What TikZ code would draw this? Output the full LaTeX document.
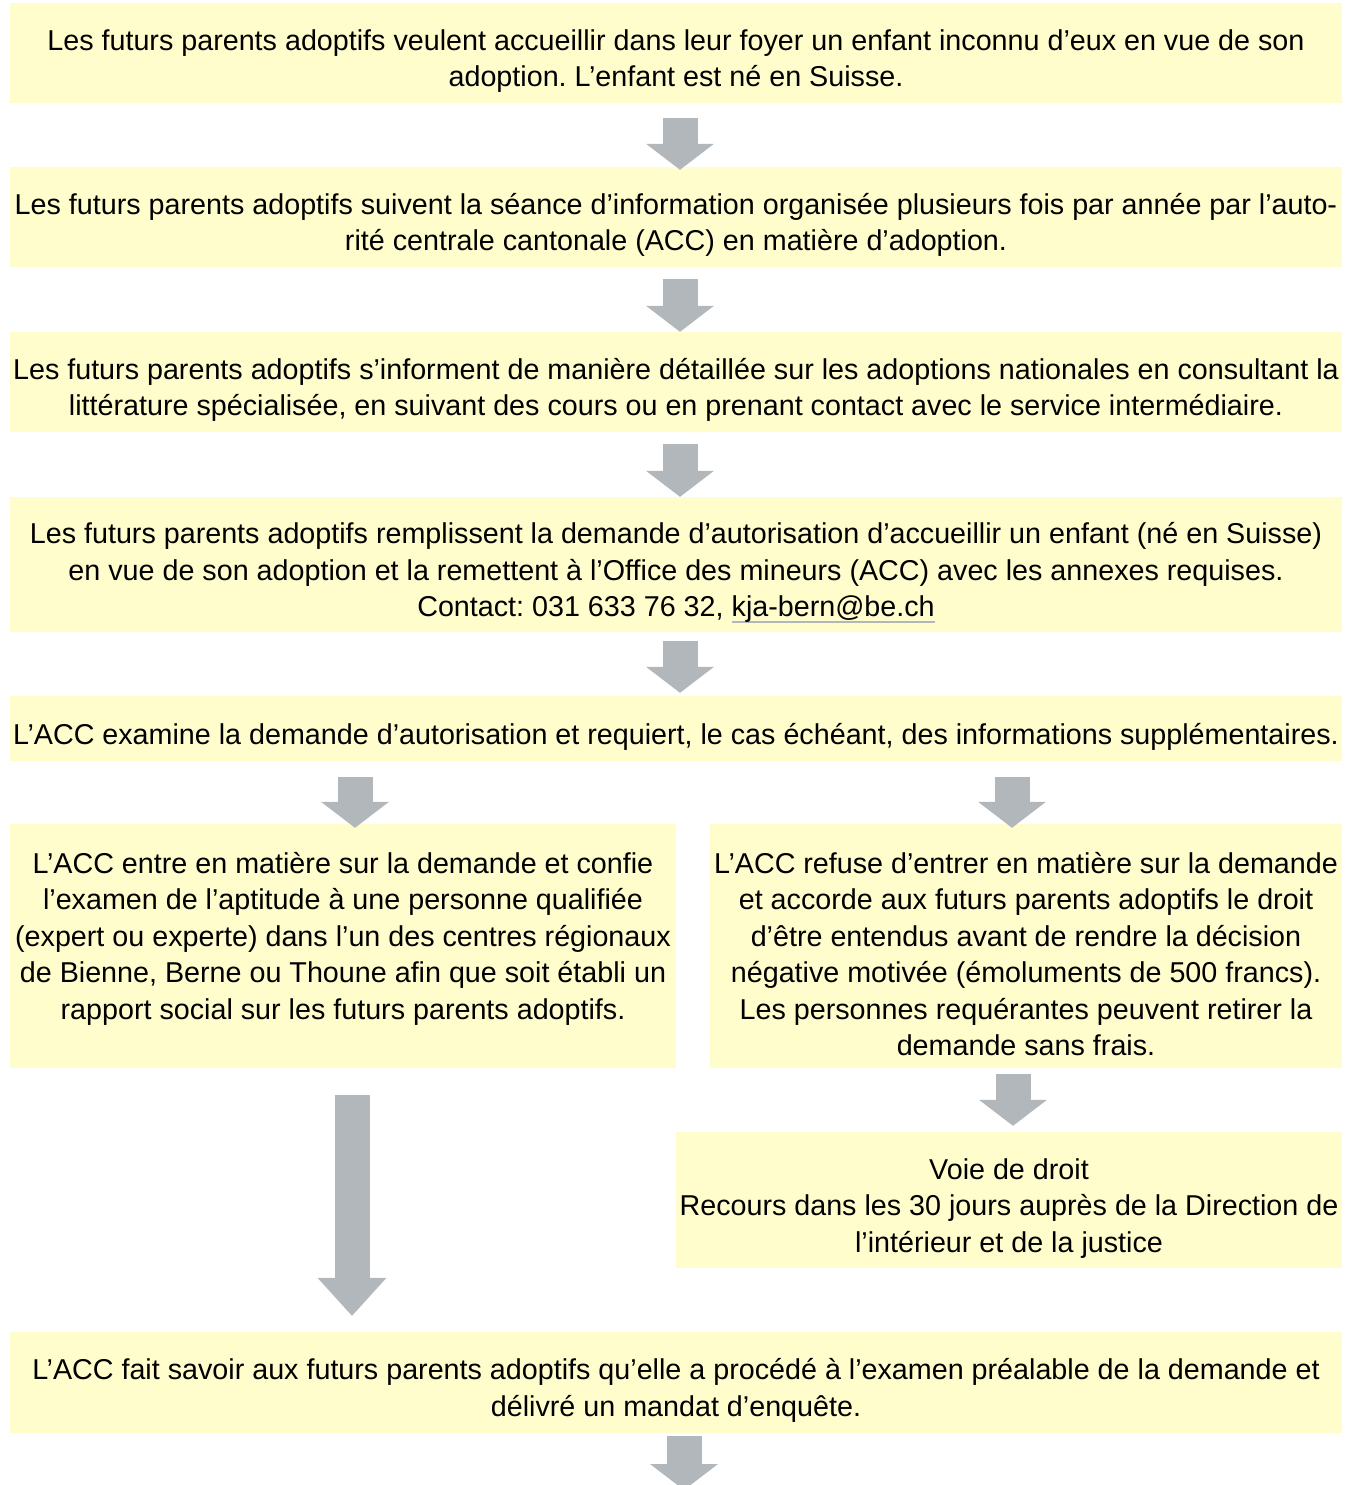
\documentclass[tikz,border=0pt]{standalone}
\usepackage{fontspec}
\setmainfont{Liberation Sans}
\usepackage{tikz}
\usetikzlibrary{arrows.meta,positioning,calc}
\definecolor{boxyellow}{HTML}{FFFDCC}
\definecolor{arrowgray}{HTML}{B1B7BA}
\frenchspacing
%% top padding of the first line, underlined mail address
\newcommand{\topgap}{\rule{0pt}{37pt}}
\newcommand{\mailline}[1]{\setbox0=\hbox{#1}\rlap{\textcolor{arrowgray}{\rule[-6pt]{\wd0}{1.6pt}}}\box0}
\tikzset{
  flowbox/.style={fill=boxyellow, draw=none, inner sep=0pt, align=center,
    text=black, font=\fontsize{28.7}{36.5}\selectfont},
  fullbox/.style={flowbox, minimum width=1332pt, minimum height=#1},
  halfbox/.style={flowbox, minimum width=#1},
  %% block arrows
  blockarrow/.style={draw=arrowgray, line width=35pt,
    -{Triangle[width=68pt, length=26pt, line width=0pt]},
    shorten <=12pt, shorten >=0pt},
}

\begin{document}
\begin{tikzpicture}[x=1pt, y=-1pt]
\useasboundingbox (0,0) rectangle (1352,1485);

%% Steps
\node[fullbox=100pt] (b1) at (676,53)
  {\topgap Les futurs parents adoptifs veulent accueillir dans leur foyer un enfant inconnu d’eux en vue de son\\
   adoption. L’enfant est né en Suisse.};
\node[fullbox=100pt] (b2) at (676,217)
  {\topgap Les futurs parents adoptifs suivent la séance d’information organisée plusieurs fois par année par l’auto-\\
   rité centrale cantonale (ACC) en matière d’adoption.};
\node[fullbox=100pt] (b3) at (676,382)
  {\topgap Les futurs parents adoptifs s’informent de manière détaillée sur les adoptions nationales en consultant la\\
   littérature spécialisée, en suivant des cours ou en prenant contact avec le service intermédiaire.};
\node[fullbox=135pt] (b4) at (676,564.5)
  {\topgap Les futurs parents adoptifs remplissent la demande d’autorisation d’accueillir un enfant (né en Suisse)\\
   en vue de son adoption et la remettent à l’Office des mineurs (ACC) avec les annexes requises.\\
   Contact: 031 633 76 32, \mailline{kja-bern@be.ch}};
\node[fullbox=65pt] (b5) at (676,728.5)
  {\topgap L’ACC examine la demande d’autorisation et requiert, le cas échéant, des informations supplémentaires.};

%% Branches
\node[halfbox=666pt, minimum height=244pt] (bL) at (343,946)
  {\topgap L’ACC entre en matière sur la demande et confie\\
   l’examen de l’aptitude à une personne qualifiée\\
   (expert ou experte) dans l’un des centres régionaux\\
   de Bienne, Berne ou Thoune afin que soit établi un\\
   rapport social sur les futurs parents adoptifs.\\
   \mbox{}};
\node[halfbox=632pt, minimum height=244pt] (bR) at (1026,946)
  {\topgap L’ACC refuse d’entrer en matière sur la demande\\
   et accorde aux futurs parents adoptifs le droit\\
   d’être entendus avant de rendre la décision\\
   négative motivée (émoluments de 500 francs).\\
   Les personnes requérantes peuvent retirer la\\
   demande sans frais.};
\node[halfbox=666pt, minimum height=136pt] (bV) at (1009,1200)
  {\topgap Voie de droit\\
   Recours dans les 30 jours auprès de la Direction de\\
   l’intérieur et de la justice};

\node[fullbox=101pt] (b6) at (676,1382.5)
  {\topgap L’ACC fait savoir aux futurs parents adoptifs qu’elle a procédé à l’examen préalable de la demande et\\
   délivré un mandat d’enquête.};

%% Arrows
\coordinate (xL) at ([xshift=12pt]bL.north);
\coordinate (xR) at ([xshift=-14pt]bR.north);
\coordinate (xV) at ([xshift=4pt]bV.north);
\coordinate (xLong) at ([xshift=9pt]bL.south);
\coordinate (pageEnd) at (684,1490);

\draw[blockarrow, shorten <=15pt, shorten >=-3pt] ([xshift=4pt]b1.south) -- ([xshift=4pt]b2.north);
\draw[blockarrow] ([xshift=4pt]b2.south) -- ([xshift=4pt]b3.north);
\draw[blockarrow] ([xshift=4pt]b3.south) -- ([xshift=4pt]b4.north);
\draw[blockarrow, shorten <=9pt, shorten >=3pt] ([xshift=4pt]b4.south) -- ([xshift=4pt]b5.north);
\draw[blockarrow, shorten <=16pt, shorten >=-4pt] (xL |- b5.south) -- (xL);
\draw[blockarrow, shorten <=16pt, shorten >=-4pt] (xR |- b5.south) -- (xR);
\draw[blockarrow, shorten <=6pt, shorten >=6pt] (xV |- bR.south) -- (xV);
\draw[blockarrow, -{Triangle[width=69pt, length=38pt, line width=0pt]}, shorten <=27pt, shorten >=16pt]
  (xLong) -- (xLong |- b6.north);
\draw[blockarrow, shorten <=3pt] ([xshift=8pt]b6.south) -- (pageEnd);

\end{tikzpicture}
\end{document}
